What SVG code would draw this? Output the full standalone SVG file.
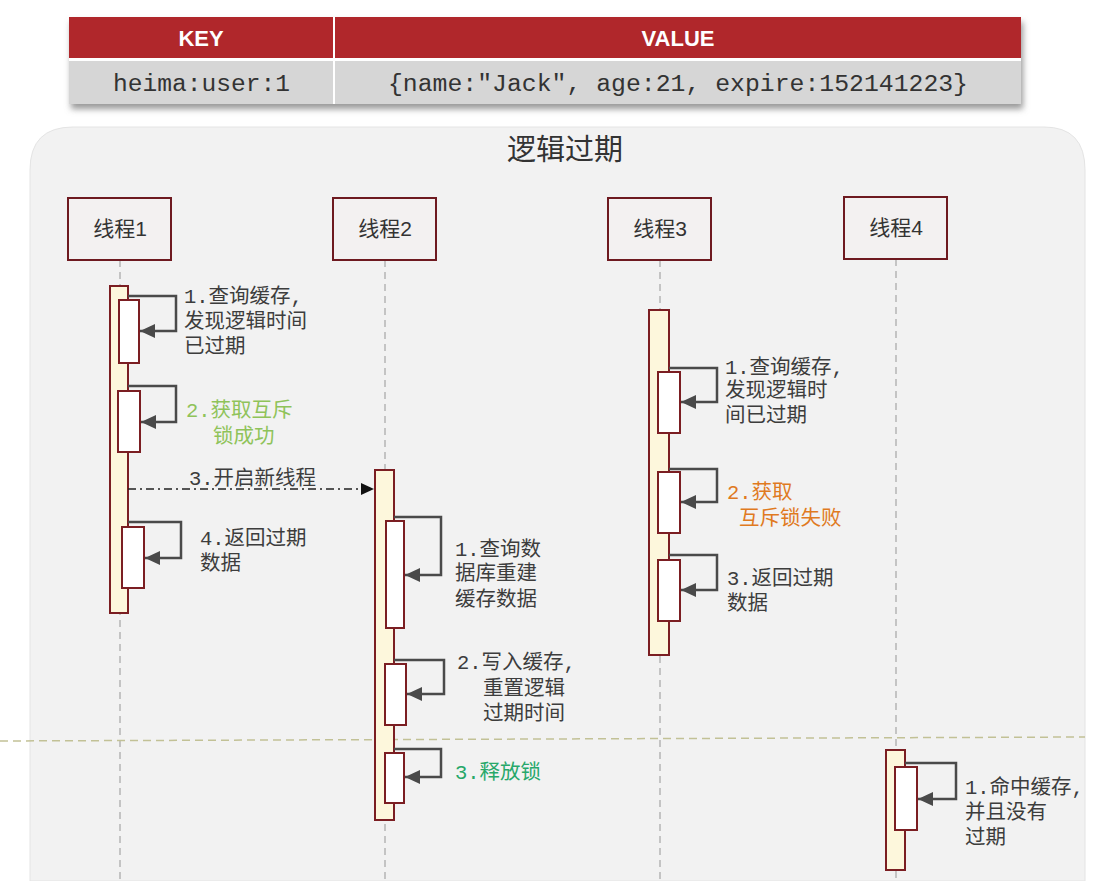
<svg xmlns="http://www.w3.org/2000/svg" width="1095" height="881" viewBox="0 0 1095 881">
<style>
.hdr{font-family:"Liberation Sans",Arial,sans-serif;font-weight:bold;font-size:22px;fill:#fff;text-anchor:middle}
.mono{font-family:"Liberation Mono","DejaVu Sans Mono",monospace;font-size:23px;fill:#333}
.title{font-family:"Noto Sans CJK SC",sans-serif;font-size:29px;fill:#333;text-anchor:middle}
.box{fill:#f3f1f1;stroke:#6e1a20;stroke-width:2}
.bt{font-family:"Liberation Sans","Noto Sans CJK SC",sans-serif;font-size:21px;fill:#333;text-anchor:middle}
.life{stroke:#b5b5b5;stroke-width:1.5;stroke-dasharray:7 5;fill:none}
.act{fill:#fdf7dc;stroke:#7b1e22;stroke-width:2}
.inn{fill:#fff;stroke:#7b1e22;stroke-width:2}
.loop{fill:none;stroke:#4a4a4a;stroke-width:2.5;marker-end:url(#ah)}
.lb{font-family:"Liberation Mono","Noto Sans CJK SC",monospace;font-size:20.5px;fill:#3d3d3d}
.g1{fill:#8fc35a}
.g2{fill:#27a86a}
.or{fill:#e07a1f}
</style>
<defs>
<marker id="ah" markerUnits="userSpaceOnUse" markerWidth="16" markerHeight="14" refX="15" refY="7" orient="auto">
<path d="M0,0 L15,7 L0,14 z" fill="#4a4a4a"/>
</marker>
<marker id="ab" markerUnits="userSpaceOnUse" markerWidth="14" markerHeight="14" refX="13" refY="7" orient="auto">
<path d="M0,1 L13,7 L0,13 z" fill="#111"/>
</marker>
<filter id="sh" x="-5%" y="-20%" width="110%" height="150%">
<feGaussianBlur stdDeviation="3"/>
</filter>
</defs>
<rect width="1095" height="881" fill="#ffffff"/>

<g id="table">
<rect x="71" y="22" width="952" height="87" fill="#999" filter="url(#sh)"/>
<rect x="69" y="17" width="952" height="87" fill="#fff"/>
<rect x="69" y="17" width="264" height="41" fill="#b0272b"/>
<rect x="335" y="17" width="686" height="41" fill="#b0272b"/>
<rect x="69" y="61" width="264" height="43" fill="#d6d6d6"/>
<rect x="335" y="61" width="686" height="43" fill="#d6d6d6"/>
<text class="hdr" x="201" y="46">KEY</text>
<text class="hdr" x="678" y="46">VALUE</text>
<text class="mono" x="113" y="91" textLength="177" lengthAdjust="spacingAndGlyphs">heima:user:1</text>
<text class="mono" x="388" y="91" textLength="580" lengthAdjust="spacingAndGlyphs">{name:"Jack", age:21, expire:152141223}</text>
</g>

<g id="panel">
<path d="M30,170 Q30,127 73,127 L1044,127 Q1085,127 1085,170 L1085,881 L30,881 Z" fill="#f2f2f2" stroke="#e4e4e4" stroke-width="1"/>
<text class="title" x="565" y="160">逻辑过期</text>
</g>

<g id="lifelines">
<line class="life" x1="120" y1="260" x2="120" y2="881"/>
<line class="life" x1="385" y1="260" x2="385" y2="881"/>
<line class="life" x1="660" y1="260" x2="660" y2="881"/>
<line class="life" x1="896" y1="259" x2="896" y2="881"/>
</g>

<line id="divider" x1="0" y1="741" x2="1085" y2="737" stroke="#c2c196" stroke-width="1.5" stroke-dasharray="8 5"/>

<g id="thread1">
<rect class="box" x="68" y="198" width="103" height="62"/>
<text class="bt" x="120" y="236">线程1</text>
<rect class="act" x="110" y="286" width="18" height="327"/>
<rect class="inn" x="119" y="300" width="20" height="63"/>
<rect class="inn" x="118" y="391" width="22" height="61"/>
<rect class="inn" x="122" y="527" width="22" height="61"/>
</g>

<g id="thread2">
<rect class="box" x="333" y="198" width="103" height="62"/>
<text class="bt" x="385" y="236">线程2</text>
<rect class="act" x="375" y="470" width="19" height="350"/>
<rect class="inn" x="386" y="521" width="18" height="107"/>
<rect class="inn" x="385" y="664" width="21" height="61"/>
<rect class="inn" x="385" y="753" width="19" height="50"/>
</g>

<g id="thread3">
<rect class="box" x="608" y="198" width="103" height="62"/>
<text class="bt" x="660" y="236">线程3</text>
<rect class="act" x="649" y="310" width="20" height="345"/>
<rect class="inn" x="658" y="372" width="22" height="61"/>
<rect class="inn" x="658" y="472" width="22" height="61"/>
<rect class="inn" x="658" y="560" width="22" height="61"/>
</g>

<g id="thread4">
<rect class="box" x="844" y="197" width="103" height="62"/>
<text class="bt" x="896" y="235">线程4</text>
<rect class="act" x="886" y="750" width="19" height="120"/>
<rect class="inn" x="895" y="767" width="22" height="63"/>
</g>

<g id="connectors">
<path class="loop" d="M128,296 H176 V331 H140"/>
<path class="loop" d="M128,386 H176 V422 H141"/>
<line x1="128" y1="489" x2="374" y2="489" stroke="#222" stroke-width="1.5" stroke-dasharray="8 4 2 4" marker-end="url(#ab)"/>
<path class="loop" d="M128,522 H181 V558 H145"/>
<path class="loop" d="M394,517 H441 V575 H405"/>
<path class="loop" d="M394,660 H444 V694 H407"/>
<path class="loop" d="M394,749 H441 V777 H405"/>
<path class="loop" d="M669,368 H717 V402 H681"/>
<path class="loop" d="M669,469 H717 V502 H681"/>
<path class="loop" d="M669,555 H717 V590 H681"/>
<path class="loop" d="M905,763 H956 V799 H918"/>
</g>

<g id="labels">
<text class="lb" x="184" y="303">1.查询缓存,</text>
<text class="lb" x="184" y="328">发现逻辑时间</text>
<text class="lb" x="184" y="353">已过期</text>
<text class="lb g1" x="186" y="417">2.获取互斥</text>
<text class="lb g1" x="213" y="443">锁成功</text>
<text class="lb" x="189" y="485">3.开启新线程</text>
<text class="lb" x="200" y="545">4.返回过期</text>
<text class="lb" x="200" y="570">数据</text>

<text class="lb" x="455" y="556">1.查询数</text>
<text class="lb" x="455" y="580">据库重建</text>
<text class="lb" x="455" y="606">缓存数据</text>
<text class="lb" x="457" y="669">2.写入缓存,</text>
<text class="lb" x="483" y="695">重置逻辑</text>
<text class="lb" x="483" y="720">过期时间</text>
<text class="lb g2" x="455" y="779">3.释放锁</text>

<text class="lb" x="725" y="374">1.查询缓存,</text>
<text class="lb" x="725" y="397">发现逻辑时</text>
<text class="lb" x="725" y="422">间已过期</text>
<text class="lb or" x="727" y="499">2.获取</text>
<text class="lb or" x="739" y="525">互斥锁失败</text>
<text class="lb" x="727" y="585">3.返回过期</text>
<text class="lb" x="727" y="610">数据</text>

<text class="lb" x="965" y="794">1.命中缓存,</text>
<text class="lb" x="965" y="819">并且没有</text>
<text class="lb" x="965" y="844">过期</text>
</g>
</svg>
